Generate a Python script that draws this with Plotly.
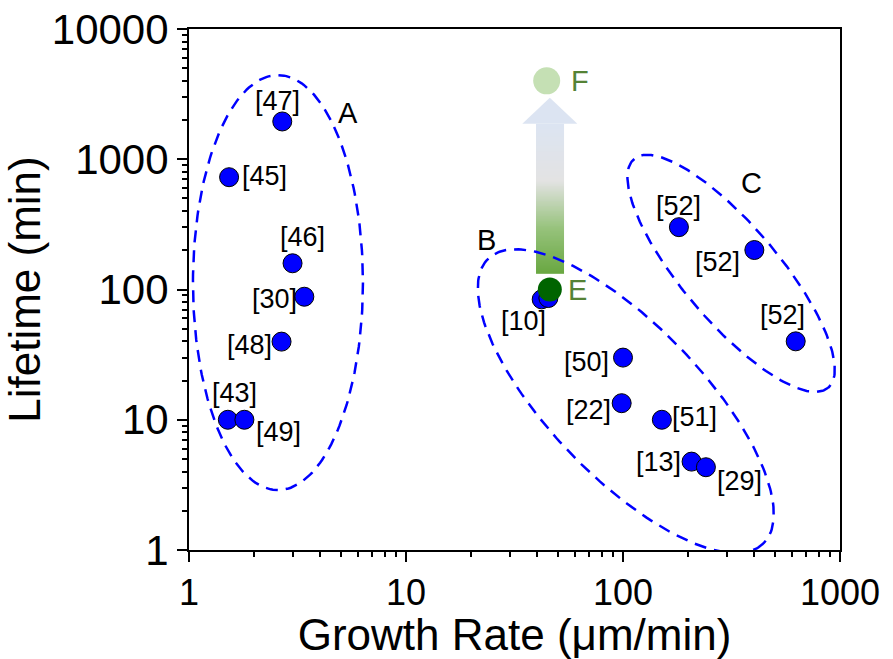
import numpy as np
import plotly.graph_objects as go

# ---- data: growth rate (um/min) vs. lifetime (min), grouped by literature cluster ----
refs_A = ["[47]", "[45]", "[46]", "[30]", "[48]", "[43]", "[49]"]
rate_A = [2.69, 1.53, 3.0, 3.4, 2.67, 1.51, 1.80]
life_A = [1950, 728, 159, 88, 39.8, 10, 10]

refs_B = ["[10]", "", "[50]", "[22]", "[51]", "[13]", "[29]"]
rate_B = [42.2, 45.3, 100, 98.6, 151, 207, 241]
life_B = [84, 86, 30, 13.4, 10, 4.77, 4.32]

refs_C = ["[52]", "[52]", "[52]"]
rate_C = [181, 403, 625]
life_C = [301, 201, 40]

# this work: before (E) and after (F)
rate_E, life_E = 46, 100
rate_F, life_F = 44.5, 4000

x_tickvals = [1, 10, 100, 1000]
x_ticktext = ["1", "10", "100", "1000"]
y_tickvals = [1, 10, 100, 1000, 10000]
y_ticktext = ["1", "10", "100", "1000", "10000"]

# ---- label offsets in pixels (dx right, dy down) ----
off_A = [(-5, -20), (35, -1), (10, -26), (-30, 2), (-32, 3), (7, -27), (34, 12)]
off_B = [(-18, 22), (0, 0), (-37, 4), (-33, 7), (33, -3), (-33, 0), (34, 14)]
off_C = [(0, -21), (-37, 12), (-13, -26)]

FONT = "Arial, Liberation Sans, sans-serif"
BLUE = "#0000ff"
LABEL_GREEN = "#548235"

# plot geometry
W, H = 893, 659
ML, MR, MT, MB = 189, 53, 29, 109
PX_PER_DEC_X = (W - ML - MR) / 3.0
PX_PER_DEC_Y = (H - MT - MB) / 4.0

fig = go.Figure()


def ellipse(cx, cy, a_px, b_px, angle_deg, n=240):
    """Ellipse drawn in screen space around (cx, cy) on log-log axes."""
    t = np.linspace(0, 2 * np.pi, n)
    th = np.deg2rad(angle_deg)
    dx = a_px * np.cos(th) * np.cos(t) - b_px * np.sin(th) * np.sin(t)
    dy = a_px * np.sin(th) * np.cos(t) + b_px * np.cos(th) * np.sin(t)
    lx = np.log10(cx) + dx / PX_PER_DEC_X
    ly = np.log10(cy) - dy / PX_PER_DEC_Y
    return 10 ** lx, 10 ** ly


for (cx, cy, a, b, ang) in [(2.57, 113, 85, 207.5, 0),
                            (103, 13.9, 198, 76, 46),
                            (315, 133, 150, 48, 49.7)]:
    ex, ey = ellipse(cx, cy, a, b, ang)
    fig.add_trace(go.Scatter(x=ex, y=ey, mode="lines",
                             line=dict(color=BLUE, width=2.5, dash="12px,8px"),
                             hoverinfo="skip", showlegend=False))

# ---- gradient arrow from E up to F ----
shaft_lo = np.log10(life_E) + 0.12
tip = np.log10(life_F) - 0.13
shaft_hi = tip - 0.2
hw_shaft = 13.8 / PX_PER_DEC_X
hw_head = 27.5 / PX_PER_DEC_X
ax_c = np.log10(rate_E)
n_rows = 90
y_edges = 10 ** np.linspace(shaft_lo, shaft_hi, n_rows + 1)
x_edges = [10 ** (ax_c - hw_shaft), 10 ** (ax_c + hw_shaft)]
zgrad = np.linspace(0, 1, n_rows).reshape(-1, 1)
fig.add_trace(go.Heatmap(x=x_edges, y=y_edges, z=zgrad, zmin=0, zmax=1,
                         colorscale=[[0, "#6aa842"], [0.3, "#97c37c"], [0.62, "#e3e3e3"], [1, "#dce4f2"]],
                         showscale=False, hoverinfo="skip"))
fig.add_trace(go.Scatter(
    x=[10 ** (ax_c - hw_head), 10 ** (ax_c + hw_head), 10 ** ax_c, 10 ** (ax_c - hw_head)],
    y=[10 ** shaft_hi, 10 ** shaft_hi, 10 ** tip, 10 ** shaft_hi],
    mode="lines", fill="toself", fillcolor="#dce4f2", line=dict(width=0),
    hoverinfo="skip", showlegend=False))

# ---- literature points ----
for rates, lifes in [(rate_A, life_A), (rate_B, life_B), (rate_C, life_C)]:
    fig.add_trace(go.Scatter(x=rates, y=lifes, mode="markers",
                             marker=dict(size=19, color=BLUE, line=dict(color="black", width=1)),
                             showlegend=False))

# ---- E and F ----
fig.add_trace(go.Scatter(x=[rate_F], y=[life_F], mode="markers",
                         marker=dict(size=27, color="#c5e0b4", line=dict(width=0)),
                         showlegend=False))
fig.add_trace(go.Scatter(x=[rate_E], y=[life_E], mode="markers",
                         marker=dict(size=24, color="#006400", line=dict(width=0)),
                         showlegend=False))

annotations = []
for refs, rates, lifes, offs in [(refs_A, rate_A, life_A, off_A),
                                 (refs_B, rate_B, life_B, off_B),
                                 (refs_C, rate_C, life_C, off_C)]:
    for r, xv, yv, (dx, dy) in zip(refs, rates, lifes, offs):
        if not r:
            continue
        annotations.append(dict(x=np.log10(xv), y=np.log10(yv), text=r, showarrow=False,
                                xshift=dx, yshift=-dy,
                                font=dict(family=FONT, size=27, color="black")))

for txt, xv, yv, dx in [("E", rate_E, life_E, 28), ("F", rate_F, life_F, 33)]:
    annotations.append(dict(x=np.log10(xv), y=np.log10(yv), text=txt, showarrow=False,
                            xshift=dx, font=dict(family=FONT, size=29, color=LABEL_GREEN)))

for txt, xv, yv in [("A", 5.42, 2280), ("B", 23.4, 240), ("C", 393, 655)]:
    annotations.append(dict(x=np.log10(xv), y=np.log10(yv), text=txt, showarrow=False,
                            font=dict(family=FONT, size=29, color="black")))

axis_common = dict(
    type="log", showgrid=False, zeroline=False, automargin=False,
    showline=True, linecolor="black", linewidth=2, mirror=True,
    ticks="outside", ticklen=10, tickwidth=2, tickcolor="black",
    tickmode="array",
    minor=dict(ticks="outside", ticklen=5, tickwidth=1.5, tickcolor="black", showgrid=False),
)

fig.update_layout(
    width=W, height=H,
    margin=dict(l=ML, r=MR, t=MT, b=MB),
    paper_bgcolor="white", plot_bgcolor="white",
    showlegend=False,
    annotations=annotations,
    xaxis=dict(axis_common, range=[0, 3], tickvals=x_tickvals, ticktext=x_ticktext,
               tickfont=dict(family=FONT, size=36, color="black"),
               title=dict(text="Growth Rate (μm/min)", standoff=0,
                          font=dict(family=FONT, size=44, color="black"))),
    yaxis=dict(axis_common, range=[0, 4], tickvals=y_tickvals, ticktext=y_ticktext,
               tickfont=dict(family=FONT, size=42, color="black"),
               title=dict(text="Lifetime (min)", standoff=2,
                          font=dict(family=FONT, size=44, color="black"))),
)
fig.update_xaxes(minor=dict(tickvals=[m * 10 ** k for k in range(0, 3) for m in range(2, 10)]))
fig.update_yaxes(minor=dict(tickvals=[m * 10 ** k for k in range(0, 4) for m in range(2, 10)]))

fig.write_html("out.html")
